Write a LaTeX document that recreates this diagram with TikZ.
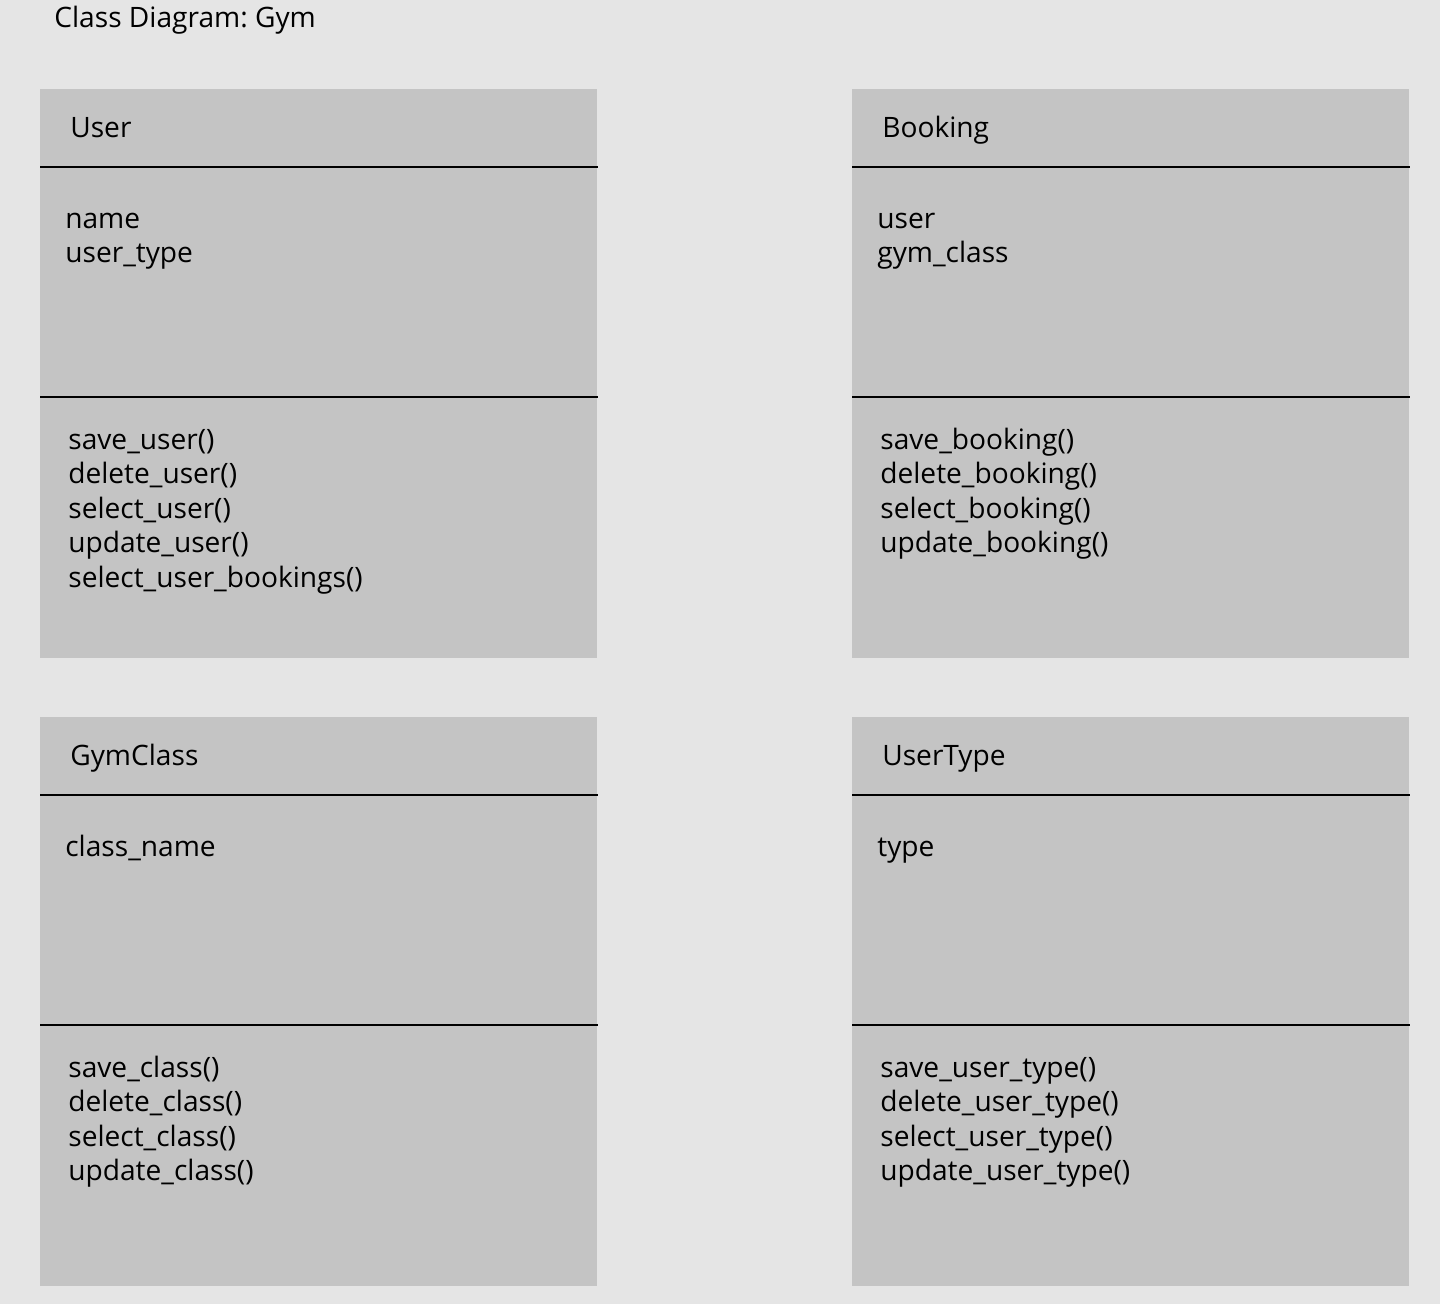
\documentclass[tikz,border=0pt]{standalone}
\usepackage{fontspec}
\setmainfont{Open Sans}
\usetikzlibrary{positioning}
\frenchspacing
\definecolor{bgcol}{HTML}{E5E5E5}
\definecolor{boxcol}{HTML}{C4C4C4}
\tikzset{
  classbox/.style={fill=boxcol,minimum width=11.14cm,minimum height=11.38cm,inner sep=0pt,anchor=north west},
  sepline/.style={line width=1.1pt,black},
  txt/.style={anchor=base west,inner sep=0pt,font=\fontsize{16}{19}\selectfont}
}
% one class: name, position, title, attributes, operations
\newcommand\umlclass[5]{%
  \node[classbox] (#1) at (#2) {};
  \draw[sepline] ([yshift=-1.56cm]#1.north west) -- ([yshift=-1.56cm]#1.north east);
  \draw[sepline] ([yshift=-6.16cm]#1.north west) -- ([yshift=-6.16cm]#1.north east);
  \node[txt] (#1-title) at ([xshift=0.6cm,yshift=-0.96cm]#1.north west) {#3};
  \foreach \attr [count=\i] in {#4}
    \node[txt] (#1-attr-\i) at ([xshift=0.5cm,yshift=-2.78cm-0.69cm*(\i-1)]#1.north west) {\attr};
  \foreach \op [count=\i] in {#5}
    \node[txt] (#1-op-\i) at ([xshift=0.56cm,yshift=-7.2cm-0.69cm*(\i-1)]#1.north west) {\op};
}
\begin{document}
\begin{tikzpicture}
\fill[bgcol] (0,0) rectangle (28.8,-26.08);
\useasboundingbox (0,0) rectangle (28.8,-26.08);
\node[txt] (heading) at (1.08,-0.54) {Class Diagram: Gym};
\umlclass{user}{0.8,-1.78}{User}{name,user\_type}%
  {save\_user(),delete\_user(),select\_user(),update\_user(),select\_user\_bookings()}
\umlclass{booking}{17.04,-1.78}{Booking}{user,gym\_class}%
  {save\_booking(),delete\_booking(),select\_booking(),update\_booking()}
\umlclass{gymclass}{0.8,-14.34}{GymClass}{class\_name}%
  {save\_class(),delete\_class(),select\_class(),update\_class()}
\umlclass{usertype}{17.04,-14.34}{UserType}{type}%
  {save\_user\_type(),delete\_user\_type(),select\_user\_type(),update\_user\_type()}
\end{tikzpicture}
\end{document}
